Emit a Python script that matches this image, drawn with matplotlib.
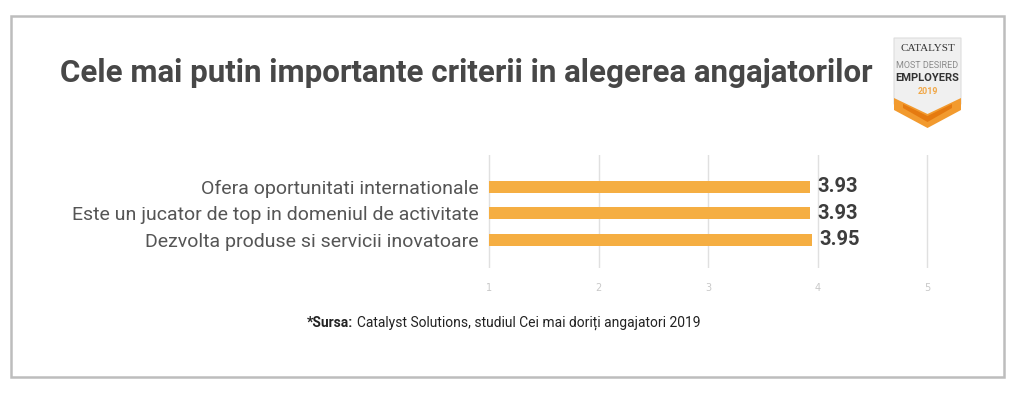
import numpy as np
import matplotlib.pyplot as plt
from matplotlib.patches import Rectangle, Polygon

title = "Cele mai putin importante criterii in alegerea angajatorilor"
categories = ["Ofera oportunitati internationale",
              "Este un jucator de top in domeniul de activitate",
              "Dezvolta produse si servicii inovatoare"]
values = [3.93, 3.93, 3.95]
ticks = [1, 2, 3, 4, 5]
source_bold = "*Sursa:"
source_text = "Catalyst Solutions, studiul Cei mai doriți angajatori 2019"

fig = plt.figure(figsize=(10.24, 3.96), dpi=100)
fig.patch.set_facecolor('white')

# outer frame
fig.add_artist(Rectangle((11/1024, 1 - 377/396), 993/1024, 361/396,
                         transform=fig.transFigure, fill=False,
                         edgecolor='#bdbdbd', lw=1.8))

# title
fig.text(60/1024, 1 - 73/396, title, fontsize=22.5, fontweight='bold',
         color='#474747', family='Roboto', va='center', ha='left')

# chart area (a little margin on x so the edge gridlines are not clipped)
ax = fig.add_axes([487/1024, 1 - 268/396, 442/1024, 113/396])
y = np.arange(len(categories))
ax.barh(y, np.array(values) - 1, left=1, height=0.46, color='#f5ae42', zorder=2)
ax.set_xlim(1 - 2/109.5, 5 + 2/109.5)
ax.set_ylim(len(categories) - 1 + 1.06, -1.2)
ax.set_xticks(ticks)
ax.set_xticklabels([str(t) for t in ticks], color='#c8c8c8', fontsize=7)
ax.grid(axis='x', color='#e0e0e0', lw=1, zorder=0)
ax.set_yticks(y)
ax.set_yticklabels(categories, fontsize=14, color='#555555', family='Roboto')
ax.tick_params(length=0, axis='both')
ax.tick_params(axis='y', pad=6)
ax.tick_params(axis='x', pad=11)
for s in ax.spines.values():
    s.set_visible(False)
for yi, v in zip(y, values):
    ax.text(v + 0.07, yi, f"{v:.2f}", va='center', ha='left', fontsize=14.5,
            fontweight='bold', color='#3d3d3d', family='Roboto')

# source note
r = fig.canvas.get_renderer()
sb = fig.text(307/1024, 1 - 323/396, source_bold, fontsize=10, fontweight='bold',
              color='#222222', va='center', ha='left', family='Roboto')
bb = sb.get_window_extent(renderer=r)
fig.text((bb.x1 + 4)/1024, 1 - 323/396, source_text,
         fontsize=10, color='#222222', va='center', ha='left', family='Roboto')

# badge logo
lg = fig.add_axes([889/1024, 1 - 131/396, 77/1024, 97/396])
lg.set_xlim(0, 77)
lg.set_ylim(97, 0)
lg.axis('off')
lg.add_patch(Polygon([(5, 4), (72, 4), (72, 70), (38.5, 86), (5, 70)],
                     closed=True, facecolor='#f0f0f0', edgecolor='#dddddd', lw=0.8))
lg.add_patch(Polygon([(5, 64), (38.5, 80), (72, 64), (72, 76), (38.5, 94), (5, 76)],
                     closed=True, facecolor='#f29a2e', edgecolor='none'))
lg.add_patch(Polygon([(14, 70), (38.5, 82), (63, 70), (63, 74), (38.5, 88), (14, 74)],
                     closed=True, facecolor='#e57a10', edgecolor='none'))
lg.text(38.5, 14, "CATALYST", ha='center', va='center', fontsize=8,
        family='Liberation Serif', color='#333333')
lg.text(38.5, 31, "MOST DESIRED", ha='center', va='center', fontsize=6.5,
        color='#8a8a8a', family='Roboto')
lg.text(38.5, 44, "EMPLOYERS", ha='center', va='center', fontsize=8,
        fontweight='bold', color='#333333', family='Roboto')
lg.text(38.5, 57, "2019", ha='center', va='center', fontsize=6.5,
        fontweight='bold', color='#f0a848', family='Roboto')

fig.savefig('out.png', dpi=100)
